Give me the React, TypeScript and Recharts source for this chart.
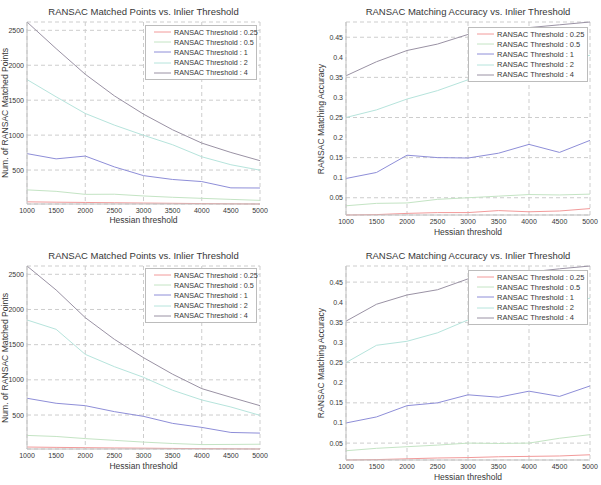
import React from "react";
import { LineChart, Line, XAxis, YAxis, CartesianGrid, Legend } from "recharts";

// Hessian thresholds on the x axis
const hessian = [1000, 1500, 2000, 2500, 3000, 3500, 4000, 4500, 5000];

const seriesKeys = ["t025", "t05", "t1", "t2", "t4"];
const seriesNames = [
  "RANSAC Threshold : 0.25",
  "RANSAC Threshold : 0.5",
  "RANSAC Threshold : 1",
  "RANSAC Threshold : 2",
  "RANSAC Threshold : 4",
];
const seriesColors = ["#f29a9a", "#c4e4c4", "#8e8ed8", "#b6e4dc", "#9a92a4"];

const pointTicks = [500, 1000, 1500, 2000, 2500];
const accTicks = [0.05, 0.1, 0.15, 0.2, 0.25, 0.3, 0.35, 0.4, 0.45];

// first run: matched points
const pointsA025 = [45, 40, 36, 32, 28, 24, 20, 17, 14];
const pointsA05 = [216, 195, 152, 154, 129, 110, 95, 80, 66];
const pointsA1 = [735, 660, 700, 545, 420, 365, 335, 245, 243];
const pointsA2 = [1795, 1548, 1310, 1143, 998, 862, 690, 576, 498];
const pointsA4 = [2619, 2238, 1871, 1562, 1300, 1076, 886, 752, 634];

// first run: matching accuracy
const accA025 = [0.007, 0.008, 0.011, 0.013, 0.013, 0.018, 0.015, 0.017, 0.023];
const accA05 = [0.03, 0.036, 0.037, 0.046, 0.05, 0.054, 0.058, 0.057, 0.059];
const accA1 = [0.098, 0.113, 0.156, 0.15, 0.149, 0.161, 0.183, 0.163, 0.193];
const accA2 = [0.25, 0.269, 0.296, 0.317, 0.344, 0.362, 0.378, 0.392, 0.405];
const accA4 = [0.354, 0.389, 0.417, 0.433, 0.457, 0.466, 0.474, 0.481, 0.488];

// second run: matched points
const pointsB025 = [45, 40, 36, 32, 29, 25, 22, 20, 17];
const pointsB05 = [210, 195, 165, 140, 115, 95, 80, 82, 85];
const pointsB1 = [738, 667, 633, 548, 481, 381, 324, 252, 243];
const pointsB2 = [1851, 1718, 1362, 1187, 1036, 852, 714, 614, 495];
const pointsB4 = [2618, 2277, 1884, 1576, 1315, 1080, 875, 752, 633];

// second run: matching accuracy
const accB025 = [0.008, 0.009, 0.011, 0.013, 0.014, 0.016, 0.017, 0.018, 0.021];
const accB05 = [0.031, 0.037, 0.041, 0.045, 0.05, 0.049, 0.05, 0.062, 0.071];
const accB1 = [0.1, 0.115, 0.143, 0.15, 0.17, 0.164, 0.179, 0.166, 0.192];
const accB2 = [0.25, 0.293, 0.303, 0.324, 0.356, 0.37, 0.385, 0.397, 0.41];
const accB4 = [0.353, 0.395, 0.418, 0.431, 0.458, 0.467, 0.475, 0.483, 0.49];

const buildRows = (series: number[][]) =>
  hessian.map((h, i) => {
    const row: Record<string, number> = { h };
    seriesKeys.forEach((k, j) => (row[k] = series[j][i]));
    return row;
  });

const FONT = '"Liberation Sans", Arial, sans-serif';
const TEXT = "#383838";
const FRAME = "#c0c0c0";

interface PanelProps {
  left: number;
  top: number;
  width: number;
  height: number;
  margin: { top: number; right: number; bottom: number; left: number };
  yWidth: number;
  xHeight: number;
  rows: Record<string, number>[];
  yTicks: number[];
  title: string;
  yLabel: string;
  titleY: number;
  xLabelY: number;
  yLabelX: number;
  legendLeft: number;
  legendTop: number;
  legendWidth: number;
  legendFont: number;
}

function BoxLegend({ payload, width, font }: any) {
  return (
    <div
      style={{
        width,
        boxSizing: "border-box",
        border: "1px solid #bcbcbc",
        background: "#fff",
        padding: "1px 0",
      }}
    >
      {(payload || []).map((p: any) => (
        <div key={p.value} style={{ display: "flex", alignItems: "center", height: 10.2 }}>
          <svg width={28} height={6} style={{ flex: "none" }}>
            <line x1={8} x2={25} y1={3} y2={3} stroke={p.color} strokeWidth={1} />
          </svg>
          <span style={{ fontSize: font, fontFamily: FONT, color: TEXT, whiteSpace: "nowrap" }}>{p.value}</span>
        </div>
      ))}
    </div>
  );
}

function Panel(props: PanelProps) {
  const { left, top, width, height, margin, yWidth, xHeight, rows, yTicks } = props;
  const plotLeft = margin.left + yWidth;
  const plotRight = width - margin.right;
  const plotTop = margin.top;
  const plotBottom = height - margin.bottom - xHeight;
  const cx = (plotLeft + plotRight) / 2;
  const cy = (plotTop + plotBottom) / 2;
  const center: React.CSSProperties = {
    position: "absolute",
    transform: "translate(-50%, -50%)",
    whiteSpace: "nowrap",
    fontFamily: FONT,
    color: TEXT,
    lineHeight: 1,
  };

  return (
    <div style={{ position: "absolute", left, top, width, height }}>
      <LineChart width={width} height={height} data={rows} margin={margin}>
        <CartesianGrid stroke="#cdcdcd" strokeDasharray="4 3" />
        <XAxis
          dataKey="h"
          type="number"
          domain={[1000, 5000]}
          ticks={hessian}
          height={xHeight}
          tickSize={0}
          tickMargin={4}
          stroke={FRAME}
          tick={{ fontSize: 7, fill: TEXT, fontFamily: FONT }}
        />
        <XAxis xAxisId="top" orientation="top" type="number" domain={[1000, 5000]} height={0} tick={false} tickLine={false} stroke={FRAME} />
        <YAxis
          type="number"
          domain={["dataMin", "dataMax"]}
          ticks={yTicks}
          width={yWidth}
          tickSize={0}
          tickMargin={3}
          stroke={FRAME}
          tick={{ fontSize: 7, fill: TEXT, fontFamily: FONT }}
        />
        <YAxis yAxisId="right" orientation="right" width={0} tick={false} tickLine={false} stroke={FRAME} />
        <Legend
          layout="vertical"
          align="center"
          verticalAlign="middle"
          wrapperStyle={{ left: props.legendLeft, top: props.legendTop, width: props.legendWidth }}
          content={(p: any) => <BoxLegend payload={p.payload} width={props.legendWidth} font={props.legendFont} />}
        />
        {seriesKeys.map((k, j) => (
          <Line
            key={k}
            dataKey={k}
            name={seriesNames[j]}
            stroke={seriesColors[j]}
            strokeWidth={1}
            dot={false}
            isAnimationActive={false}
          />
        ))}
      </LineChart>
      <div style={{ ...center, left: cx, top: props.titleY, fontSize: 9.5 }}>{props.title}</div>
      <div style={{ ...center, left: cx, top: props.xLabelY, fontSize: 8.5 }}>{"Hessian threshold"}</div>
      <div style={{ ...center, left: props.yLabelX, top: cy, fontSize: 8.6, transform: "translate(-50%, -50%) rotate(-90deg)" }}>
        {props.yLabel}
      </div>
    </div>
  );
}

const pointsTitle = "RANSAC Matched Points vs. Inlier Threshold";
const accTitle = "RANSAC Matching Accuracy vs. Inlier Threshold";

export default function App() {
  return (
    <div style={{ position: "absolute", left: 0, top: 0, width: 601, height: 485, background: "#fff", overflow: "hidden" }}>
      <Panel
        left={0} top={0} width={300} height={240}
        margin={{ top: 22, right: 40, bottom: 16, left: 0 }} yWidth={27} xHeight={20}
        rows={buildRows([pointsA025, pointsA05, pointsA1, pointsA2, pointsA4])}
        yTicks={pointTicks} title={pointsTitle} yLabel="Num. of RANSAC Matched Points"
        titleY={12} xLabelY={220} yLabelX={5}
        legendLeft={145} legendTop={25} legendWidth={112} legendFont={7.2}
      />
      <Panel
        left={300} top={0} width={301} height={240}
        margin={{ top: 22, right: 11, bottom: 5, left: 0 }} yWidth={46} xHeight={20}
        rows={buildRows([accA025, accA05, accA1, accA2, accA4])}
        yTicks={accTicks} title={accTitle} yLabel="RANSAC Matching Accuracy"
        titleY={12} xLabelY={232} yLabelX={21}
        legendLeft={168} legendTop={27} legendWidth={120} legendFont={7.5}
      />
      <Panel
        left={0} top={240} width={300} height={245}
        margin={{ top: 26, right: 40, bottom: 16, left: 0 }} yWidth={27} xHeight={20}
        rows={buildRows([pointsB025, pointsB05, pointsB1, pointsB2, pointsB4])}
        yTicks={pointTicks} title={pointsTitle} yLabel="Num. of RANSAC Matched Points"
        titleY={16} xLabelY={226} yLabelX={5}
        legendLeft={145} legendTop={28} legendWidth={112} legendFont={7.2}
      />
      <Panel
        left={300} top={240} width={301} height={245}
        margin={{ top: 26, right: 11, bottom: 5, left: 0 }} yWidth={46} xHeight={20}
        rows={buildRows([accB025, accB05, accB1, accB2, accB4])}
        yTicks={accTicks} title={accTitle} yLabel="RANSAC Matching Accuracy"
        titleY={16} xLabelY={237} yLabelX={21}
        legendLeft={168} legendTop={30} legendWidth={120} legendFont={7.5}
      />
    </div>
  );
}
